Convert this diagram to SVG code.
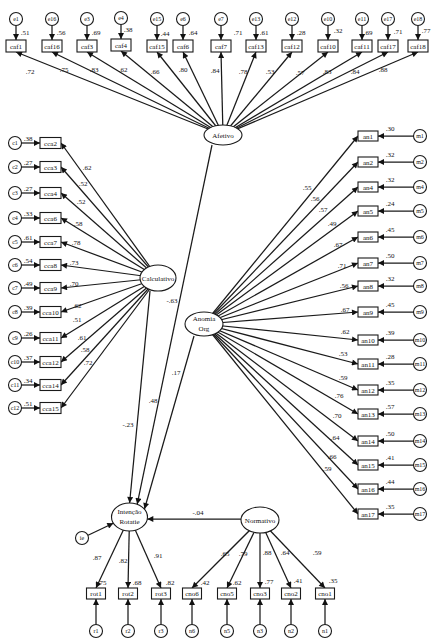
<svg xmlns="http://www.w3.org/2000/svg" width="431" height="640" viewBox="0 0 431 640">
<defs>
<marker id="ah" viewBox="0 0 10 10" refX="10" refY="5" markerWidth="8" markerHeight="6" markerUnits="userSpaceOnUse" orient="auto"><path d="M0,0 L10,5 L0,10 z" fill="#111"/></marker>
<style>
.ln{stroke:#1a1a1a;stroke-width:1.25;fill:none;marker-end:url(#ah)}
.bx{fill:#fff;stroke:#1a1a1a;stroke-width:1.1}
.el{fill:#fff;stroke:#1a1a1a;stroke-width:1.1}
.t{font-family:"Liberation Serif",serif;font-size:7px;fill:#111;text-anchor:middle}
.s{font-family:"Liberation Serif",serif;font-size:6px;fill:#111;text-anchor:middle}
</style>
</defs>
<rect width="431" height="640" fill="#fff"/>
<g id="connectors">
<line class="ln" x1="223" y1="135" x2="16" y2="52"/>
<line class="ln" x1="223" y1="135" x2="52" y2="52"/>
<line class="ln" x1="223" y1="135" x2="87" y2="52"/>
<line class="ln" x1="223" y1="135" x2="121" y2="51"/>
<line class="ln" x1="223" y1="135" x2="157" y2="52"/>
<line class="ln" x1="223" y1="135" x2="183" y2="52"/>
<line class="ln" x1="223" y1="135" x2="221" y2="52"/>
<line class="ln" x1="223" y1="135" x2="256" y2="52"/>
<line class="ln" x1="223" y1="135" x2="292" y2="52"/>
<line class="ln" x1="223" y1="135" x2="328" y2="52"/>
<line class="ln" x1="223" y1="135" x2="362" y2="52"/>
<line class="ln" x1="223" y1="135" x2="388" y2="52"/>
<line class="ln" x1="223" y1="135" x2="418" y2="52"/>
<line class="ln" x1="16" y1="25.5" x2="16" y2="40"/>
<line class="ln" x1="52" y1="25.5" x2="52" y2="40"/>
<line class="ln" x1="87" y1="25.5" x2="87" y2="40"/>
<line class="ln" x1="121" y1="24.5" x2="121" y2="39"/>
<line class="ln" x1="157" y1="25.5" x2="157" y2="40"/>
<line class="ln" x1="183" y1="25.5" x2="183" y2="40"/>
<line class="ln" x1="221" y1="25.5" x2="221" y2="40"/>
<line class="ln" x1="256" y1="25.5" x2="256" y2="40"/>
<line class="ln" x1="292" y1="25.5" x2="292" y2="40"/>
<line class="ln" x1="328" y1="25.5" x2="328" y2="40"/>
<line class="ln" x1="362" y1="25.5" x2="362" y2="40"/>
<line class="ln" x1="388" y1="25.5" x2="388" y2="40"/>
<line class="ln" x1="418" y1="25.5" x2="418" y2="40"/>
<line class="ln" x1="158" y1="278" x2="61" y2="143"/>
<line class="ln" x1="158" y1="278" x2="61" y2="167"/>
<line class="ln" x1="158" y1="278" x2="61" y2="193"/>
<line class="ln" x1="158" y1="278" x2="61" y2="218"/>
<line class="ln" x1="158" y1="278" x2="61" y2="242"/>
<line class="ln" x1="158" y1="278" x2="61" y2="265"/>
<line class="ln" x1="158" y1="278" x2="61" y2="288"/>
<line class="ln" x1="158" y1="278" x2="61" y2="312"/>
<line class="ln" x1="158" y1="278" x2="61" y2="338"/>
<line class="ln" x1="158" y1="278" x2="61" y2="362"/>
<line class="ln" x1="158" y1="278" x2="61" y2="385"/>
<line class="ln" x1="158" y1="278" x2="61" y2="408"/>
<line class="ln" x1="21.5" y1="143" x2="40" y2="143"/>
<line class="ln" x1="21.5" y1="167" x2="40" y2="167"/>
<line class="ln" x1="21.5" y1="193" x2="40" y2="193"/>
<line class="ln" x1="21.5" y1="218" x2="40" y2="218"/>
<line class="ln" x1="21.5" y1="242" x2="40" y2="242"/>
<line class="ln" x1="21.5" y1="265" x2="40" y2="265"/>
<line class="ln" x1="21.5" y1="288" x2="40" y2="288"/>
<line class="ln" x1="21.5" y1="312" x2="40" y2="312"/>
<line class="ln" x1="21.5" y1="338" x2="40" y2="338"/>
<line class="ln" x1="21.5" y1="362" x2="40" y2="362"/>
<line class="ln" x1="21.5" y1="385" x2="40" y2="385"/>
<line class="ln" x1="21.5" y1="408" x2="40" y2="408"/>
<line class="ln" x1="204" y1="324" x2="358" y2="136"/>
<line class="ln" x1="204" y1="324" x2="358" y2="162"/>
<line class="ln" x1="204" y1="324" x2="358" y2="187"/>
<line class="ln" x1="204" y1="324" x2="358" y2="211"/>
<line class="ln" x1="204" y1="324" x2="358" y2="237"/>
<line class="ln" x1="204" y1="324" x2="358" y2="263"/>
<line class="ln" x1="204" y1="324" x2="358" y2="286"/>
<line class="ln" x1="204" y1="324" x2="358" y2="312"/>
<line class="ln" x1="204" y1="324" x2="358" y2="340"/>
<line class="ln" x1="204" y1="324" x2="358" y2="364"/>
<line class="ln" x1="204" y1="324" x2="358" y2="390"/>
<line class="ln" x1="204" y1="324" x2="358" y2="414"/>
<line class="ln" x1="204" y1="324" x2="358" y2="441"/>
<line class="ln" x1="204" y1="324" x2="358" y2="465"/>
<line class="ln" x1="204" y1="324" x2="358" y2="489"/>
<line class="ln" x1="204" y1="324" x2="358" y2="514"/>
<line class="ln" x1="413.5" y1="136" x2="378" y2="136"/>
<line class="ln" x1="413.5" y1="162" x2="378" y2="162"/>
<line class="ln" x1="413.5" y1="187" x2="378" y2="187"/>
<line class="ln" x1="413.5" y1="211" x2="378" y2="211"/>
<line class="ln" x1="413.5" y1="237" x2="378" y2="237"/>
<line class="ln" x1="413.5" y1="263" x2="378" y2="263"/>
<line class="ln" x1="413.5" y1="286" x2="378" y2="286"/>
<line class="ln" x1="413.5" y1="312" x2="378" y2="312"/>
<line class="ln" x1="413.5" y1="340" x2="378" y2="340"/>
<line class="ln" x1="413.5" y1="364" x2="378" y2="364"/>
<line class="ln" x1="413.5" y1="390" x2="378" y2="390"/>
<line class="ln" x1="413.5" y1="414" x2="378" y2="414"/>
<line class="ln" x1="413.5" y1="441" x2="378" y2="441"/>
<line class="ln" x1="413.5" y1="465" x2="378" y2="465"/>
<line class="ln" x1="413.5" y1="489" x2="378" y2="489"/>
<line class="ln" x1="413.5" y1="514" x2="378" y2="514"/>
<line class="ln" x1="150" y1="291" x2="129.6" y2="503"/>
<line class="ln" x1="212" y1="145" x2="137.2" y2="504.2"/>
<line class="ln" x1="194" y1="336" x2="144.5" y2="509"/>
<line class="ln" x1="241" y1="519" x2="147.3" y2="519"/>
<line class="ln" x1="87.5" y1="535.5" x2="113.3" y2="523.2"/>
<line class="ln" x1="129.5" y1="517" x2="96" y2="588"/>
<line class="ln" x1="129.5" y1="517" x2="128" y2="588"/>
<line class="ln" x1="129.5" y1="517" x2="161" y2="588"/>
<line class="ln" x1="260" y1="520" x2="192" y2="588"/>
<line class="ln" x1="260" y1="520" x2="227" y2="588"/>
<line class="ln" x1="260" y1="520" x2="260" y2="588"/>
<line class="ln" x1="260" y1="520" x2="291" y2="588"/>
<line class="ln" x1="260" y1="520" x2="325" y2="588"/>
<line class="ln" x1="96" y1="624.5" x2="96" y2="599"/>
<line class="ln" x1="128" y1="624.5" x2="128" y2="599"/>
<line class="ln" x1="161" y1="624.5" x2="161" y2="599"/>
<line class="ln" x1="192" y1="624.5" x2="192" y2="599"/>
<line class="ln" x1="227" y1="624.5" x2="227" y2="599"/>
<line class="ln" x1="260" y1="624.5" x2="260" y2="599"/>
<line class="ln" x1="291" y1="624.5" x2="291" y2="599"/>
<line class="ln" x1="325" y1="624.5" x2="325" y2="599"/>
</g>
<g id="labels">
<g class="t">
<text x="30" y="73.5">.72</text><text x="64" y="71.5">.75</text><text x="94" y="71.5">.83</text><text x="123" y="71.5">.62</text><text x="155" y="73.5">.66</text><text x="183" y="71.5">.80</text><text x="215" y="72.5">.84</text><text x="243" y="73.5">.78</text><text x="270" y="73.5">.53</text><text x="300" y="74.5">.57</text><text x="327" y="73.5">.83</text><text x="355" y="73.5">.84</text><text x="383" y="71.5">.88</text>
<text x="25" y="34.5">.51</text><text x="61" y="34.5">.56</text><text x="96" y="34.5">.69</text><text x="128" y="31.5">.38</text><text x="165" y="35.5">.44</text><text x="193" y="34.5">.64</text><text x="238" y="34.5">.71</text><text x="264" y="34.5">.61</text><text x="301" y="34.5">.28</text><text x="338" y="32.5">.32</text><text x="368" y="34.5">.69</text><text x="398" y="33.5">.71</text><text x="426" y="32.5">.77</text>
<text x="87" y="169.5">.62</text><text x="83" y="185.5">.52</text><text x="81" y="203.5">.52</text><text x="78" y="225.5">.58</text><text x="76" y="244.5">.78</text><text x="74" y="264.5">.73</text><text x="74" y="285.5">.70</text><text x="77" y="307.5">.62</text><text x="77" y="321.5">.51</text><text x="82" y="339.5">.61</text><text x="85" y="351.5">.58</text><text x="88" y="364.5">.72</text>
<text x="28" y="141">.38</text><text x="28" y="165">.27</text><text x="28" y="191">.27</text><text x="28" y="216">.33</text><text x="28" y="240">.61</text><text x="28" y="263">.54</text><text x="28" y="286">.49</text><text x="28" y="310">.39</text><text x="28" y="336">.26</text><text x="28" y="360">.37</text><text x="28" y="383">.34</text><text x="28" y="406">.51</text>
<text x="307" y="189.5">.55</text><text x="315" y="200.5">.56</text><text x="323" y="211.5">.57</text><text x="332" y="225.5">.49</text><text x="338" y="246.5">.67</text><text x="342" y="267.5">.71</text><text x="344" y="287.5">.56</text><text x="345" y="311.5">.67</text><text x="345" y="333.5">.62</text><text x="343" y="355.5">.53</text><text x="343" y="379.5">.59</text><text x="339" y="397.5">.76</text><text x="337" y="417.5">.70</text><text x="335" y="439.5">.64</text><text x="332" y="458.5">.66</text><text x="327" y="470.5">.59</text>
<text x="390" y="130.5">.30</text><text x="390" y="156.5">.32</text><text x="390" y="181.5">.32</text><text x="390" y="205.5">.24</text><text x="390" y="231.5">.45</text><text x="390" y="257.5">.50</text><text x="390" y="280.5">.32</text><text x="390" y="306.5">.45</text><text x="390" y="334.5">.39</text><text x="390" y="358.5">.28</text><text x="390" y="384.5">.35</text><text x="390" y="408.5">.57</text><text x="390" y="435.5">.50</text><text x="390" y="459.5">.41</text><text x="390" y="483.5">.44</text><text x="390" y="508.5">.35</text>
<text x="172" y="302.5">-.63</text><text x="176" y="374.5">.17</text><text x="153" y="402.5">.48</text><text x="128" y="426.5">-.23</text><text x="198" y="514.5">-.04</text>
<text x="97" y="559.5">.87</text><text x="123" y="562.5">.82</text><text x="158" y="557.5">.91</text><text x="225" y="555.5">.65</text><text x="243" y="555.5">.79</text><text x="267" y="554.5">.88</text><text x="285" y="554.5">.64</text><text x="317" y="554.5">.59</text>
<text x="102" y="584.5">.75</text><text x="137" y="584.5">.68</text><text x="170" y="584.5">.82</text><text x="205" y="584.5">.42</text><text x="237" y="584.5">.62</text><text x="269" y="583.5">.77</text><text x="298" y="582.5">.41</text><text x="333" y="582.5">.35</text>
</g>
</g>
<g id="Afetivo"><ellipse class="el" cx="223" cy="135" rx="19" ry="10"/><text class="t" x="223" y="137.5">Afetivo</text></g>
<g id="Calculativo"><ellipse class="el" cx="158" cy="278" rx="18" ry="13"/><text class="t" x="158" y="280.5">Calculativo</text></g>
<g id="AnomiaOrg"><ellipse class="el" cx="204" cy="324" rx="19" ry="12"/><text class="t" x="204" y="321">Anomia</text><text class="t" x="204" y="331">Org</text></g>
<g id="IntencaoRotatie"><ellipse class="el" cx="129.5" cy="517" rx="18" ry="14"/><text class="t" x="129.5" y="514">Intenção</text><text class="t" x="129.5" y="524">Rotatie</text></g>
<g id="Normativo"><ellipse class="el" cx="260" cy="520" rx="19" ry="13"/><text class="t" x="260" y="522.5">Normativo</text></g>
<g id="ie"><circle class="el" cx="82" cy="538" r="6.5"/><text class="s" x="82" y="540">ie</text></g>
<g id="top-row">
<g id="caf1"><rect class="bx" x="6" y="40" width="20" height="12"/><text class="t" x="16" y="48.5">caf1</text><circle class="el" cx="16" cy="19" r="6.5"/><text class="s" x="16" y="21">e1</text></g>
<g id="caf16"><rect class="bx" x="42" y="40" width="20" height="12"/><text class="t" x="52" y="48.5">caf16</text><circle class="el" cx="52" cy="19" r="6.5"/><text class="s" x="52" y="21">e16</text></g>
<g id="caf3"><rect class="bx" x="77" y="40" width="20" height="12"/><text class="t" x="87" y="48.5">caf3</text><circle class="el" cx="87" cy="19" r="6.5"/><text class="s" x="87" y="21">e3</text></g>
<g id="caf4"><rect class="bx" x="111" y="39" width="20" height="12"/><text class="t" x="121" y="47.5">caf4</text><circle class="el" cx="121" cy="18" r="6.5"/><text class="s" x="121" y="20">e4</text></g>
<g id="caf15"><rect class="bx" x="147" y="40" width="20" height="12"/><text class="t" x="157" y="48.5">caf15</text><circle class="el" cx="157" cy="19" r="6.5"/><text class="s" x="157" y="21">e15</text></g>
<g id="caf6"><rect class="bx" x="173" y="40" width="20" height="12"/><text class="t" x="183" y="48.5">caf6</text><circle class="el" cx="183" cy="19" r="6.5"/><text class="s" x="183" y="21">e6</text></g>
<g id="caf7"><rect class="bx" x="211" y="40" width="20" height="12"/><text class="t" x="221" y="48.5">caf7</text><circle class="el" cx="221" cy="19" r="6.5"/><text class="s" x="221" y="21">e7</text></g>
<g id="caf13"><rect class="bx" x="246" y="40" width="20" height="12"/><text class="t" x="256" y="48.5">caf13</text><circle class="el" cx="256" cy="19" r="6.5"/><text class="s" x="256" y="21">e13</text></g>
<g id="caf12"><rect class="bx" x="282" y="40" width="20" height="12"/><text class="t" x="292" y="48.5">caf12</text><circle class="el" cx="292" cy="19" r="6.5"/><text class="s" x="292" y="21">e12</text></g>
<g id="caf10"><rect class="bx" x="318" y="40" width="20" height="12"/><text class="t" x="328" y="48.5">caf10</text><circle class="el" cx="328" cy="19" r="6.5"/><text class="s" x="328" y="21">e10</text></g>
<g id="caf11"><rect class="bx" x="352" y="40" width="20" height="12"/><text class="t" x="362" y="48.5">caf11</text><circle class="el" cx="362" cy="19" r="6.5"/><text class="s" x="362" y="21">e11</text></g>
<g id="caf17"><rect class="bx" x="378" y="40" width="20" height="12"/><text class="t" x="388" y="48.5">caf17</text><circle class="el" cx="388" cy="19" r="6.5"/><text class="s" x="388" y="21">e17</text></g>
<g id="caf18"><rect class="bx" x="408" y="40" width="20" height="12"/><text class="t" x="418" y="48.5">caf18</text><circle class="el" cx="418" cy="19" r="6.5"/><text class="s" x="418" y="21">e18</text></g>
</g>
<g id="left-column">
<g id="cca2"><rect class="bx" x="40" y="137.5" width="21" height="11"/><text class="t" x="50.5" y="145.5">cca2</text><circle class="el" cx="15" cy="143" r="6.5"/><text class="s" x="15" y="145">c1</text></g>
<g id="cca3"><rect class="bx" x="40" y="161.5" width="21" height="11"/><text class="t" x="50.5" y="169.5">cca3</text><circle class="el" cx="15" cy="167" r="6.5"/><text class="s" x="15" y="169">c2</text></g>
<g id="cca4"><rect class="bx" x="40" y="187.5" width="21" height="11"/><text class="t" x="50.5" y="195.5">cca4</text><circle class="el" cx="15" cy="193" r="6.5"/><text class="s" x="15" y="195">c3</text></g>
<g id="cca6"><rect class="bx" x="40" y="212.5" width="21" height="11"/><text class="t" x="50.5" y="220.5">cca6</text><circle class="el" cx="15" cy="218" r="6.5"/><text class="s" x="15" y="220">c4</text></g>
<g id="cca7"><rect class="bx" x="40" y="236.5" width="21" height="11"/><text class="t" x="50.5" y="244.5">cca7</text><circle class="el" cx="15" cy="242" r="6.5"/><text class="s" x="15" y="244">c5</text></g>
<g id="cca8"><rect class="bx" x="40" y="259.5" width="21" height="11"/><text class="t" x="50.5" y="267.5">cca8</text><circle class="el" cx="15" cy="265" r="6.5"/><text class="s" x="15" y="267">c6</text></g>
<g id="cca9"><rect class="bx" x="40" y="282.5" width="21" height="11"/><text class="t" x="50.5" y="290.5">cca9</text><circle class="el" cx="15" cy="288" r="6.5"/><text class="s" x="15" y="290">c7</text></g>
<g id="cca10"><rect class="bx" x="40" y="306.5" width="21" height="11"/><text class="t" x="50.5" y="314.5">cca10</text><circle class="el" cx="15" cy="312" r="6.5"/><text class="s" x="15" y="314">c8</text></g>
<g id="cca11"><rect class="bx" x="40" y="332.5" width="21" height="11"/><text class="t" x="50.5" y="340.5">cca11</text><circle class="el" cx="15" cy="338" r="6.5"/><text class="s" x="15" y="340">c9</text></g>
<g id="cca12"><rect class="bx" x="40" y="356.5" width="21" height="11"/><text class="t" x="50.5" y="364.5">cca12</text><circle class="el" cx="15" cy="362" r="6.5"/><text class="s" x="15" y="364">c10</text></g>
<g id="cca14"><rect class="bx" x="40" y="379.5" width="21" height="11"/><text class="t" x="50.5" y="387.5">cca14</text><circle class="el" cx="15" cy="385" r="6.5"/><text class="s" x="15" y="387">c11</text></g>
<g id="cca15"><rect class="bx" x="40" y="402.5" width="21" height="11"/><text class="t" x="50.5" y="410.5">cca15</text><circle class="el" cx="15" cy="408" r="6.5"/><text class="s" x="15" y="410">c12</text></g>
</g>
<g id="right-column">
<g id="an1"><rect class="bx" x="358" y="131" width="20" height="10"/><text class="t" x="368" y="138.5">an1</text><circle class="el" cx="420" cy="136" r="6.5"/><text class="s" x="420" y="138">m1</text></g>
<g id="an2"><rect class="bx" x="358" y="157" width="20" height="10"/><text class="t" x="368" y="164.5">an2</text><circle class="el" cx="420" cy="162" r="6.5"/><text class="s" x="420" y="164">m2</text></g>
<g id="an4"><rect class="bx" x="358" y="182" width="20" height="10"/><text class="t" x="368" y="189.5">an4</text><circle class="el" cx="420" cy="187" r="6.5"/><text class="s" x="420" y="189">m4</text></g>
<g id="an5"><rect class="bx" x="358" y="206" width="20" height="10"/><text class="t" x="368" y="213.5">an5</text><circle class="el" cx="420" cy="211" r="6.5"/><text class="s" x="420" y="213">m5</text></g>
<g id="an6"><rect class="bx" x="358" y="232" width="20" height="10"/><text class="t" x="368" y="239.5">an6</text><circle class="el" cx="420" cy="237" r="6.5"/><text class="s" x="420" y="239">m6</text></g>
<g id="an7"><rect class="bx" x="358" y="258" width="20" height="10"/><text class="t" x="368" y="265.5">an7</text><circle class="el" cx="420" cy="263" r="6.5"/><text class="s" x="420" y="265">m7</text></g>
<g id="an8"><rect class="bx" x="358" y="281" width="20" height="10"/><text class="t" x="368" y="288.5">an8</text><circle class="el" cx="420" cy="286" r="6.5"/><text class="s" x="420" y="288">m8</text></g>
<g id="an9"><rect class="bx" x="358" y="307" width="20" height="10"/><text class="t" x="368" y="314.5">an9</text><circle class="el" cx="420" cy="312" r="6.5"/><text class="s" x="420" y="314">m9</text></g>
<g id="an10"><rect class="bx" x="358" y="335" width="20" height="10"/><text class="t" x="368" y="342.5">an10</text><circle class="el" cx="420" cy="340" r="6.5"/><text class="s" x="420" y="342">m10</text></g>
<g id="an11"><rect class="bx" x="358" y="359" width="20" height="10"/><text class="t" x="368" y="366.5">an11</text><circle class="el" cx="420" cy="364" r="6.5"/><text class="s" x="420" y="366">m11</text></g>
<g id="an12"><rect class="bx" x="358" y="385" width="20" height="10"/><text class="t" x="368" y="392.5">an12</text><circle class="el" cx="420" cy="390" r="6.5"/><text class="s" x="420" y="392">m12</text></g>
<g id="an13"><rect class="bx" x="358" y="409" width="20" height="10"/><text class="t" x="368" y="416.5">an13</text><circle class="el" cx="420" cy="414" r="6.5"/><text class="s" x="420" y="416">m13</text></g>
<g id="an14"><rect class="bx" x="358" y="436" width="20" height="10"/><text class="t" x="368" y="443.5">an14</text><circle class="el" cx="420" cy="441" r="6.5"/><text class="s" x="420" y="443">m14</text></g>
<g id="an15"><rect class="bx" x="358" y="460" width="20" height="10"/><text class="t" x="368" y="467.5">an15</text><circle class="el" cx="420" cy="465" r="6.5"/><text class="s" x="420" y="467">m15</text></g>
<g id="an16"><rect class="bx" x="358" y="484" width="20" height="10"/><text class="t" x="368" y="491.5">an16</text><circle class="el" cx="420" cy="489" r="6.5"/><text class="s" x="420" y="491">m16</text></g>
<g id="an17"><rect class="bx" x="358" y="509" width="20" height="10"/><text class="t" x="368" y="516.5">an17</text><circle class="el" cx="420" cy="514" r="6.5"/><text class="s" x="420" y="516">m17</text></g>
</g>
<g id="bottom-row">
<g id="rot1"><rect class="bx" x="86.5" y="588" width="19" height="11"/><text class="t" x="96" y="596">rot1</text><circle class="el" cx="96" cy="631" r="6.5"/><text class="s" x="96" y="633">r1</text></g>
<g id="rot2"><rect class="bx" x="118.5" y="588" width="19" height="11"/><text class="t" x="128" y="596">rot2</text><circle class="el" cx="128" cy="631" r="6.5"/><text class="s" x="128" y="633">r2</text></g>
<g id="rot3"><rect class="bx" x="151.5" y="588" width="19" height="11"/><text class="t" x="161" y="596">rot3</text><circle class="el" cx="161" cy="631" r="6.5"/><text class="s" x="161" y="633">r3</text></g>
<g id="cno6"><rect class="bx" x="182.5" y="588" width="19" height="11"/><text class="t" x="192" y="596">cno6</text><circle class="el" cx="192" cy="631" r="6.5"/><text class="s" x="192" y="633">n6</text></g>
<g id="cno5"><rect class="bx" x="217.5" y="588" width="19" height="11"/><text class="t" x="227" y="596">cno5</text><circle class="el" cx="227" cy="631" r="6.5"/><text class="s" x="227" y="633">n5</text></g>
<g id="cno3"><rect class="bx" x="250.5" y="588" width="19" height="11"/><text class="t" x="260" y="596">cno3</text><circle class="el" cx="260" cy="631" r="6.5"/><text class="s" x="260" y="633">n3</text></g>
<g id="cno2"><rect class="bx" x="281.5" y="588" width="19" height="11"/><text class="t" x="291" y="596">cno2</text><circle class="el" cx="291" cy="631" r="6.5"/><text class="s" x="291" y="633">n2</text></g>
<g id="cno1"><rect class="bx" x="315.5" y="588" width="19" height="11"/><text class="t" x="325" y="596">cno1</text><circle class="el" cx="325" cy="631" r="6.5"/><text class="s" x="325" y="633">n1</text></g>
</g>
</svg>
